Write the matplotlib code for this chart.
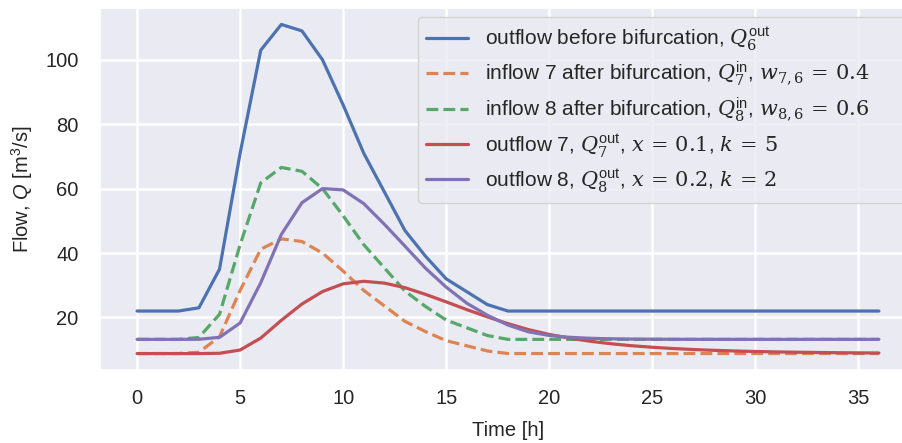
import matplotlib
matplotlib.use("Agg")
import matplotlib.pyplot as plt
import seaborn as sns

hours = list(range(37))
q6_out = [22, 22, 22, 23, 35, 71, 103, 111, 109, 100, 86, 71, 59, 47, 39, 32, 28, 24,
          22, 22, 22, 22, 22, 22, 22, 22, 22, 22, 22, 22, 22, 22, 22, 22, 22, 22, 22]
q7_in = [8.8, 8.8, 8.8, 9.2, 14.0, 28.4, 41.2, 44.4, 43.6, 40.0, 34.4, 28.4, 23.6, 18.8,
         15.6, 12.8, 11.2, 9.6, 8.8, 8.8, 8.8, 8.8, 8.8, 8.8, 8.8, 8.8, 8.8, 8.8, 8.8,
         8.8, 8.8, 8.8, 8.8, 8.8, 8.8, 8.8, 8.8]
q8_in = [13.2, 13.2, 13.2, 13.8, 21.0, 42.6, 61.8, 66.6, 65.4, 60.0, 51.6, 42.6, 35.4,
         28.2, 23.4, 19.2, 16.8, 14.4, 13.2, 13.2, 13.2, 13.2, 13.2, 13.2, 13.2, 13.2,
         13.2, 13.2, 13.2, 13.2, 13.2, 13.2, 13.2, 13.2, 13.2, 13.2, 13.2]
q7_out = [8.8, 8.8, 8.8, 8.8, 8.88, 9.90, 13.60, 19.12, 24.18, 28.06, 30.45, 31.24, 30.67,
          29.26, 27.17, 24.85, 22.44, 20.19, 18.08, 16.22, 14.74, 13.55, 12.60, 11.84,
          11.23, 10.75, 10.36, 10.05, 9.80, 9.60, 9.44, 9.31, 9.21, 9.13, 9.06, 9.01, 8.97]
q8_out = [13.2, 13.2, 13.2, 13.23, 13.84, 18.28, 30.78, 45.78, 55.64, 60.03, 59.62, 55.37,
          48.95, 42.15, 35.28, 29.42, 24.44, 20.69, 17.64, 15.53, 14.42, 13.84, 13.54,
          13.38, 13.29, 13.25, 13.23, 13.21, 13.21, 13.20, 13.20, 13.20, 13.20, 13.20,
          13.20, 13.20, 13.20]

labels = [
    r"outflow before bifurcation, $Q_6^{\mathsf{out}}$",
    r"inflow 7 after bifurcation, $Q_7^{\mathsf{in}}$, $w_{7,6}\,=\,0.4$",
    r"inflow 8 after bifurcation, $Q_8^{\mathsf{in}}$, $w_{8,6}\,=\,0.6$",
    r"outflow 7, $Q_7^{\mathsf{out}}$, $x\,=\,0.1$, $k\,=\,5$",
    r"outflow 8, $Q_8^{\mathsf{out}}$, $x\,=\,0.2$, $k\,=\,2$",
]
xlabel = "Time [h]"
ylabel = r"Flow, $\mathbf{Q}$ [m$^{\mathsf{3}}$/s]"
xticks = [0, 5, 10, 15, 20, 25, 30, 35]
yticks = [20, 40, 60, 80, 100]

sns.set_theme(style="darkgrid")
plt.rcParams['font.family'] = ['Liberation Sans', 'DejaVu Sans']
plt.rcParams['mathtext.fontset'] = 'custom'
plt.rcParams['mathtext.rm'] = 'DejaVu Serif'
plt.rcParams['mathtext.it'] = 'DejaVu Serif:italic'
plt.rcParams['mathtext.sf'] = 'Liberation Sans'
plt.rcParams['mathtext.bf'] = 'Liberation Sans:italic'

pal = sns.color_palette("deep")
fs = 14.5
lfs = 15
lw = 2.3

fig = plt.figure(figsize=(9.02, 4.43), dpi=100)
ax = fig.add_axes([100/902, (443-370)/443, 816/902, 362/443])

ax.plot(hours, q6_out, color=pal[0], lw=lw, label=labels[0])
ax.plot(hours, q7_in, color=pal[1], lw=lw, ls='--', label=labels[1])
ax.plot(hours, q8_in, color=pal[2], lw=lw, ls='--', label=labels[2])
ax.plot(hours, q7_out, color=pal[3], lw=lw, label=labels[3])
ax.plot(hours, q8_out, color=pal[4], lw=lw, label=labels[4])

ax.set_xticks(xticks)
ax.set_yticks(yticks)
ax.tick_params(labelsize=fs, colors='#262626')
ax.tick_params(axis='x', pad=8)
ax.tick_params(axis='y', pad=9.5)
for gl in ax.get_xgridlines() + ax.get_ygridlines():
    gl.set_linewidth(1.8)
ax.set_xlabel(xlabel, fontsize=fs, labelpad=9)
ax.set_ylabel(ylabel, fontsize=fs, labelpad=7.5)

x0 = (418 - 100) / 816
leg = ax.legend(loc='upper left', mode='expand',
                bbox_to_anchor=(x0, (370 - 17) / 362, (907 - 418) / 816, 0.0),
                borderaxespad=0, fontsize=lfs, labelspacing=0.38, handlelength=2.0)

fig.savefig("out.png", dpi=100)
